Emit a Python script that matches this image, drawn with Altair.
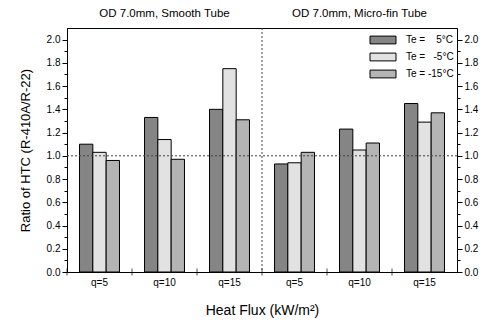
import altair as alt
import pandas as pd

groups = ["S5", "S10", "S15", "M5", "M10", "M15"]
group_labels = ["q=5", "q=10", "q=15", "q=5", "q=10", "q=15"]
series = ["Te =\u00a0\u00a0\u00a0\u00a05°C", "Te =\u00a0\u00a0\u00a0-5°C", "Te = -15°C"]
vals_te5 = [1.10, 1.33, 1.40, 0.93, 1.23, 1.45]
vals_tem5 = [1.03, 1.14, 1.75, 0.94, 1.05, 1.29]
vals_tem15 = [0.96, 0.97, 1.31, 1.03, 1.11, 1.37]
fills = ["#858585", "#e2e2e2", "#b4b4b4"]
panel_titles = ["OD 7.0mm, Smooth Tube", "OD 7.0mm, Micro-fin Tube"]
panel_groups = ["S10", "M10"]

rows = []
for s, vals in zip(series, [vals_te5, vals_tem5, vals_tem15]):
    for g, v in zip(groups, vals):
        rows.append({"group": g, "series": s, "value": v})
df = pd.DataFrame(rows)

label_map = "{" + ",".join(f"'{g}':'{l}'" for g, l in zip(groups, group_labels)) + "}"
FONT = "Liberation Sans"
yticks = [round(i * 0.1, 1) for i in range(21)]

xscale = alt.Scale(domain=groups, paddingInner=0, paddingOuter=0)
yscale = alt.Scale(domain=[0, 2.1], nice=False, zero=True)

ylabel_expr = "round(datum.value*10) % 2 == 0 ? format(datum.value, '.1f') : ''"
tick_size_expr = "round(datum.value*10) % 2 == 0 ? 5 : 3"

bars = alt.Chart(df).mark_bar(stroke="black", strokeWidth=1).encode(
    x=alt.X("group:N", scale=xscale, sort=groups,
            axis=alt.Axis(title="Heat Flux (kW/m²)", labelExpr=f"{label_map}[datum.value]",
                          labelAngle=0, ticks=False, domainColor="black", labelFont=FONT,
                          labelFontSize=10, labelColor="black", labelPadding=5,
                          titleFont=FONT, titleFontSize=14, titleFontWeight="normal",
                          titleColor="black", titlePadding=16)),
    xOffset=alt.XOffset("series:N", sort=series,
                        scale=alt.Scale(domain=series, paddingInner=0, paddingOuter=0.94)),
    y=alt.Y("value:Q", scale=yscale,
            axis=alt.Axis(title="Ratio of HTC (R-410A/R-22)", values=yticks, labelExpr=ylabel_expr,
                          tickSize=alt.expr(tick_size_expr), tickColor="black", domainColor="black",
                          grid=False, labelFont=FONT, labelFontSize=10, labelColor="black",
                          labelPadding=2, titleFont=FONT, titleFontSize=13,
                          titleFontWeight="normal", titleColor="black", titlePadding=14)),
    color=alt.Color("series:N", sort=series,
                    scale=alt.Scale(domain=series, range=fills),
                    legend=alt.Legend(title=None, orient="none", legendX=309, legendY=5,
                                      symbolType="M-2,-0.6H2V0.6H-2Z", symbolSize=169,
                                      symbolStrokeColor="black", symbolStrokeWidth=1,
                                      symbolOpacity=1, labelFont=FONT, labelFontSize=10,
                                      labelColor="black", labelOffset=16, rowPadding=4)),
)

right_axis = alt.Chart(df).mark_bar(opacity=0).encode(
    x=alt.X("group:N", scale=xscale, sort=groups),
    y=alt.Y("value:Q", scale=yscale,
            axis=alt.Axis(orient="right", title="", values=yticks, labelExpr=ylabel_expr,
                          tickSize=alt.expr(tick_size_expr), tickColor="black", domainColor="black",
                          grid=False, labelFont=FONT, labelFontSize=10, labelColor="black",
                          labelPadding=2)),
)

gdf = pd.DataFrame({"group": groups})
xticks = alt.Chart(gdf).mark_tick(orient="vertical", size=7, thickness=1, color="black").encode(
    x=alt.X("group:N", scale=xscale, sort=groups, bandPosition=0),
    y=alt.YDatum(0, scale=yscale, axis=None),
)

mid = alt.Chart(pd.DataFrame({"group": ["M5"]})).mark_rule(
    color="#444", strokeDash=[2, 2], strokeWidth=1).encode(
    x=alt.X("group:N", scale=xscale, sort=groups, bandPosition=0),
)

hline = alt.Chart(pd.DataFrame({"v": [1.0]})).mark_rule(
    color="#444", strokeDash=[2, 2], strokeWidth=1).encode(
    y=alt.Y("v:Q", scale=yscale, axis=None),
)

titles = alt.Chart(pd.DataFrame({"group": panel_groups, "t": panel_titles})).mark_text(
    font=FONT, fontSize=11.5, color="black", baseline="middle").encode(
    x=alt.X("group:N", scale=xscale, sort=groups),
    y=alt.value(-14),
    text="t:N",
)

chart = alt.layer(bars, right_axis, xticks, mid, hline, titles).resolve_axis(
    y="independent"
).properties(
    width=390, height=244,
    autosize=alt.AutoSizeParams(type="none"),
    padding={"left": 67, "top": 28, "right": 29, "bottom": 49},
    background="white",
).configure_view(stroke="black", strokeWidth=1)

chart.save("out.html", embed_options={"renderer": "svg", "actions": False})
